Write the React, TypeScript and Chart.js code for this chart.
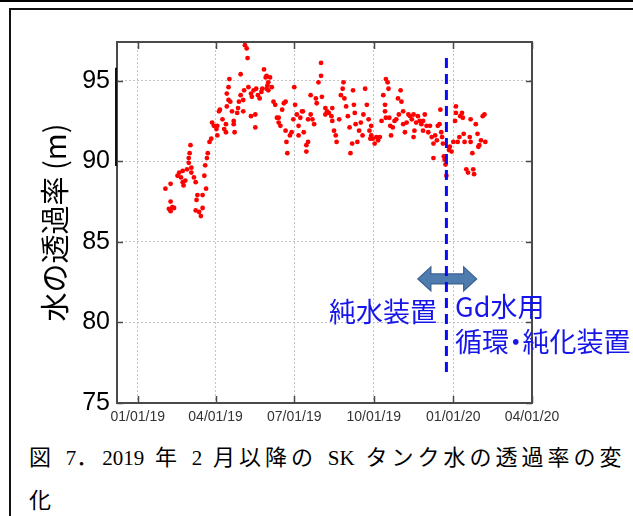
import React, { useEffect, useRef } from "react";
import { Chart, registerables } from "chart.js";

Chart.register(...registerables);

// Days since 2019-01-01 for each measurement
const DAYS = [
  32, 36, 38, 38, 38, 40, 42, 46, 48, 50, 52, 52, 53, 55, 57, 59, 59, 60, 61, 62,
  62, 65, 67, 67, 68, 69, 71, 73, 75, 75, 77, 78, 79, 80, 81, 83, 85, 86, 88, 91,
  92, 92, 94, 95, 98, 100, 102, 102, 103, 103, 105, 105, 106, 107, 109, 111, 111, 112, 115, 116,
  117, 119, 119, 122, 122, 123, 124, 126, 127, 128, 131, 131, 132, 134, 136, 136, 137, 139, 141, 143,
  144, 146, 148, 150, 149, 151, 153, 155, 149, 151, 157, 159, 161, 163, 165, 163, 167, 169, 171, 171,
  172, 173, 176, 178, 180, 181, 182, 184, 186, 186, 188, 190, 191, 192, 195, 195, 197, 197, 200, 200,
  202, 204, 206, 207, 209, 212, 212, 213, 217, 217, 219, 221, 224, 225, 225, 227, 229, 230, 233, 235,
  237, 238, 239, 241, 243, 245, 246, 248, 249, 250, 251, 252, 254, 256, 258, 260, 261, 263, 265, 267,
  268, 269, 270, 270, 272, 274, 276, 278, 280, 282, 284, 286, 286, 287, 289, 290, 287, 291, 292, 293,
  295, 297, 299, 301, 302, 304, 305, 307, 307, 309, 311, 313, 315, 317, 319, 319, 320, 322, 324, 326,
  328, 330, 330, 332, 334, 336, 338, 340, 342, 342, 344, 346, 347, 349, 350, 351, 352, 353, 354, 355,
  356, 357, 360, 361, 363, 365, 367, 368, 368, 370, 372, 373, 375, 376, 377, 378, 380, 382, 384, 385,
  385, 387, 388, 389, 391, 393, 394, 395, 397, 399, 401, 402,
];

// Water transparency (m)
const VALUES = [
  88.3, 87.05, 88.6, 87.5, 86.9, 87.15, 87.1, 89.1, 89.3, 89.0, 89.4, 88.7, 88.5, 88.8, 89.5, 90.2, 89.9, 90.5, 91.0, 89.3,
  89.6, 89.0, 88.7, 86.95, 87.6, 87.9, 86.85, 86.6, 87.1, 87.9, 89.1, 89.75, 88.3, 90.2, 90.5, 91.2, 91.4, 92.4, 92.2, 92.0,
  92.2, 91.6, 93.1, 93.2, 92.6, 92.0, 91.8, 92.3, 93.4, 94.2, 94.6, 93.8, 95.1, 93.7, 93.1, 92.3, 92.5, 91.8, 93.0, 93.3,
  93.7, 95.4, 94.1, 93.8, 93.1, 94.4, 97.2, 97.0, 96.4, 94.6, 94.2, 92.8, 94.0, 94.4, 92.9, 92.1, 94.5, 94.1, 93.9, 94.3,
  94.5, 95.7, 95.2, 94.7, 95.3, 94.9, 95.2, 94.6, 94.5, 94.4, 93.7, 93.5, 92.7, 92.4, 92.2, 92.7, 93.2, 93.6, 93.7, 91.9,
  91.2, 90.5, 91.6, 91.8, 92.6, 94.6, 93.5, 92.9, 92.2, 91.6, 92.7, 93.1, 93.1, 91.8, 91.0, 90.6, 91.2, 92.6, 92.9, 94.1,
  92.6, 92.3, 93.9, 93.6, 94.9, 95.3, 96.1, 94.0, 93.3, 92.9, 93.1, 93.0, 92.8, 93.3, 92.5, 91.9, 91.6, 91.2, 92.6, 94.1,
  94.5, 94.9, 93.9, 93.4, 92.8, 92.1, 90.5, 91.1, 94.4, 93.5, 93.0, 92.3, 91.2, 91.9, 92.4, 91.6, 92.9, 94.5, 93.5, 92.6,
  91.9, 91.4, 92.2, 91.6, 91.4, 91.1, 91.5, 91.3, 91.5, 92.5, 94.1, 93.5, 93.1, 95.1, 94.9, 94.5, 92.7, 92.7, 92.2, 91.6,
  92.1, 92.5, 92.6, 93.9, 92.9, 94.4, 93.7, 93.1, 92.3, 91.8, 92.4, 92.9, 92.8, 92.6, 92.9, 91.5, 91.9, 92.4, 92.8, 92.5,
  92.3, 92.5, 91.9, 92.9, 92.2, 91.8, 92.2, 91.5, 91.1, 90.2, 91.6, 91.3, 92.2, 92.3, 93.2, 91.8, 91.5, 91.1, 90.3, 90.1,
  89.8, 89.1, 90.7, 90.9, 90.6, 91.2, 92.5, 93.0, 93.4, 91.2, 91.5, 92.8, 93.0, 92.7, 91.7, 91.2, 89.5, 89.3, 91.5, 92.6,
  91.2, 90.5, 89.5, 89.2, 92.3, 91.7, 90.9, 91.0, 91.3, 92.8, 92.9, 91.2,
];

const X_TICKS = [0, 90, 181, 273, 365, 456];
const X_TICK_LABELS = ["01/01/19", "04/01/19", "07/01/19", "10/01/19", "01/01/20", "04/01/20"];
const Y_TICKS = [75, 80, 85, 90, 95];
const X_MIN = -24;
const X_MAX = 456;
const Y_MIN = 75;
const Y_MAX = 97.4;

// Switch of the water system (dashed line), in days since 2019-01-01
const SWITCH_DAY = [357, 357];
const SWITCH_RANGE = [96.4, 76.6];

// Double arrow and annotation labels (data coordinates)
const ARROW_FROM = 324;
const ARROW_TO = 392;
const ARROW_Y = 82.7;
const LEFT_LABEL = "純水装置";
const LEFT_LABEL_POS = [346, 80.65];
const RIGHT_LABEL_1 = "Gd水用";
const RIGHT_LABEL_2 = ["循環", "・", "純化装置"];
const RIGHT_LABEL_POS = [[367, 80.96], [367, 78.79]];

const Y_TITLE = "水の透過率 (m)";

const CAPTION_LINE1: [string, boolean][] = [
  ["図", true],
  [" 7", false],
  ["．", true],
  ["2019 ", false],
  ["年", true],
  [" 2 ", false],
  ["月以降の", true],
  [" SK ", false],
  ["タンク水の透過率の変", true],
];
const CAPTION_LINE2 = "化";

const BLUE_TEXT = "rgb(22,22,232)";

const decorPlugin = {
  id: "decor",
  beforeDatasetsDraw(chart: any) {
    const { ctx, scales } = chart;
    const x = scales.x;
    const y = scales.y;
    const x1 = x.getPixelForValue(ARROW_FROM);
    const x2 = x.getPixelForValue(ARROW_TO);
    const cy = y.getPixelForValue(ARROW_Y);
    const head = 13;
    const hh = 12;
    const sh = 5;
    ctx.save();
    ctx.beginPath();
    ctx.moveTo(x1, cy);
    ctx.lineTo(x1 + head, cy - hh);
    ctx.lineTo(x1 + head, cy - sh);
    ctx.lineTo(x2 - head, cy - sh);
    ctx.lineTo(x2 - head, cy - hh);
    ctx.lineTo(x2, cy);
    ctx.lineTo(x2 - head, cy + hh);
    ctx.lineTo(x2 - head, cy + sh);
    ctx.lineTo(x1 + head, cy + sh);
    ctx.lineTo(x1 + head, cy + hh);
    ctx.closePath();
    ctx.fillStyle = "#4f7cae";
    ctx.fill();
    ctx.strokeStyle = "#3a6090";
    ctx.lineWidth = 1.2;
    ctx.stroke();
    ctx.restore();
  },
  afterDraw(chart: any) {
    const { ctx, chartArea: a, scales } = chart;
    const x = scales.x;
    const y = scales.y;
    ctx.save();
    ctx.strokeStyle = "#4a4a4a";
    ctx.lineWidth = 2;
    ctx.strokeRect(a.left, a.top, a.right - a.left, a.bottom - a.top);
    ctx.lineWidth = 1.5;
    ctx.beginPath();
    X_TICKS.forEach((v) => {
      const px = Math.round(x.getPixelForValue(v)) + 0.5;
      ctx.moveTo(px, a.bottom);
      ctx.lineTo(px, a.bottom - 7);
      ctx.moveTo(px, a.top);
      ctx.lineTo(px, a.top + 7);
    });
    Y_TICKS.forEach((v) => {
      const py = Math.round(y.getPixelForValue(v)) + 0.5;
      ctx.moveTo(a.left, py);
      ctx.lineTo(a.left + 6, py);
      ctx.moveTo(a.right, py);
      ctx.lineTo(a.right - 6, py);
    });
    ctx.stroke();
    // dark segment on the left axis
    ctx.strokeStyle = "#111";
    ctx.lineWidth = 2;
    ctx.beginPath();
    ctx.moveTo(a.left - 1, y.getPixelForValue(95.8));
    ctx.lineTo(a.left - 1, y.getPixelForValue(89.7));
    ctx.stroke();

    // annotation labels
    ctx.fillStyle = BLUE_TEXT;
    ctx.font = '27px "Noto Sans CJK JP", sans-serif';
    ctx.textBaseline = "middle";
    ctx.textAlign = "right";
    ctx.fillText(LEFT_LABEL, x.getPixelForValue(LEFT_LABEL_POS[0]), y.getPixelForValue(LEFT_LABEL_POS[1]));
    ctx.textAlign = "left";
    ctx.fillText(RIGHT_LABEL_1, x.getPixelForValue(RIGHT_LABEL_POS[0][0]), y.getPixelForValue(RIGHT_LABEL_POS[0][1]));
    // second line: proportional (narrower) middle dot
    let tx = x.getPixelForValue(RIGHT_LABEL_POS[1][0]);
    const ty = y.getPixelForValue(RIGHT_LABEL_POS[1][1]);
    const dotW = ctx.measureText(RIGHT_LABEL_2[1]).width;
    ctx.fillText(RIGHT_LABEL_2[0], tx, ty);
    tx += ctx.measureText(RIGHT_LABEL_2[0]).width;
    ctx.fillText(RIGHT_LABEL_2[1], tx - dotW * 0.25, ty);
    tx += dotW * 0.5;
    ctx.fillText(RIGHT_LABEL_2[2], tx, ty);
    ctx.restore();
  },
};

export default function App() {
  const canvasRef = useRef<HTMLCanvasElement | null>(null);

  useEffect(() => {
    const canvas = canvasRef.current;
    if (!canvas) return;
    const points = DAYS.map((d, i) => ({ x: d, y: VALUES[i] }));
    const switchLine = SWITCH_DAY.map((d, i) => ({ x: d, y: SWITCH_RANGE[i] }));
    const chart = new Chart(canvas, {
      type: "scatter",
      data: {
        datasets: [
          {
            label: "switch",
            data: switchLine,
            showLine: true,
            borderColor: "rgb(10,10,245)",
            borderWidth: 3,
            borderDash: [10, 6],
            pointRadius: 0,
            order: 0,
          } as any,
          {
            label: "transparency",
            data: points,
            pointRadius: 2.4,
            pointHoverRadius: 2.4,
            backgroundColor: "#ff0000",
            borderWidth: 0,
            order: 1,
          },
        ],
      },
      options: {
        animation: false,
        responsive: false,
        devicePixelRatio: 1,
        layout: { padding: { left: 0, top: 42, right: 101, bottom: 0 } },
        plugins: { legend: { display: false }, tooltip: { enabled: false } },
        scales: {
          x: {
            type: "linear",
            min: X_MIN,
            max: X_MAX,
            afterBuildTicks: (scale: any) => {
              scale.ticks = X_TICKS.map((v) => ({ value: v }));
            },
            afterFit: (scale: any) => {
              scale.height = 27;
            },
            ticks: {
              autoSkip: false,
              maxRotation: 0,
              minRotation: 0,
              padding: 6,
              color: "#333",
              font: { family: '"Liberation Sans", Arial, sans-serif', size: 14 },
              callback: (v: any) => {
                const idx = X_TICKS.indexOf(Number(v));
                return idx >= 0 ? X_TICK_LABELS[idx] : "";
              },
            },
            grid: { color: "#c4c4c4", lineWidth: 1, drawTicks: false },
            border: { display: false, dash: [2, 2] },
          },
          y: {
            type: "linear",
            min: Y_MIN,
            max: Y_MAX,
            afterBuildTicks: (scale: any) => {
              scale.ticks = Y_TICKS.map((v) => ({ value: v }));
            },
            afterFit: (scale: any) => {
              scale.width = 117;
            },
            ticks: {
              padding: 7,
              color: "#000",
              font: { family: '"Liberation Sans", Arial, sans-serif', size: 25 },
              callback: (v: any) => String(v),
            },
            grid: { color: "#c4c4c4", lineWidth: 1, drawTicks: false },
            border: { display: false, dash: [2, 2] },
            title: {
              display: true,
              text: Y_TITLE,
              color: "#000",
              font: { family: '"Noto Sans CJK JP", "Liberation Sans", sans-serif', size: 29 },
              padding: { top: 38, bottom: 0 },
            },
          },
        },
      },
      plugins: [decorPlugin],
    });
    return () => chart.destroy();
  }, []);

  const cjk = { fontSize: 22, letterSpacing: "4px" };
  const lat = { fontSize: 21, wordSpacing: "5.5px" };

  return (
    <div
      style={{
        position: "absolute",
        left: 0,
        top: 0,
        width: 633,
        height: 516,
        overflow: "hidden",
        background: "#fff",
      }}
    >
      <div style={{ position: "absolute", left: 0, top: 0, width: 633, height: 2, background: "#000" }} />
      <div
        style={{
          position: "absolute",
          left: 9,
          top: 8,
          width: 700,
          height: 600,
          borderTop: "2px solid #111",
          borderLeft: "2px solid #111",
        }}
      />
      <canvas
        ref={canvasRef}
        width={633}
        height={430}
        style={{ position: "absolute", left: 0, top: 0, width: 633, height: 430, display: "block" }}
      />
      <div
        style={{
          position: "absolute",
          left: 29,
          top: 437,
          whiteSpace: "nowrap",
          lineHeight: "41px",
          color: "#000",
          fontFamily: '"Liberation Serif", "Noto Sans CJK JP", serif',
        }}
      >
        {CAPTION_LINE1.map(([t, isCjk], i) => (
          <span key={i} style={isCjk ? cjk : lat}>
            {t}
          </span>
        ))}
        <br />
        <span style={cjk}>{CAPTION_LINE2}</span>
      </div>
    </div>
  );
}
